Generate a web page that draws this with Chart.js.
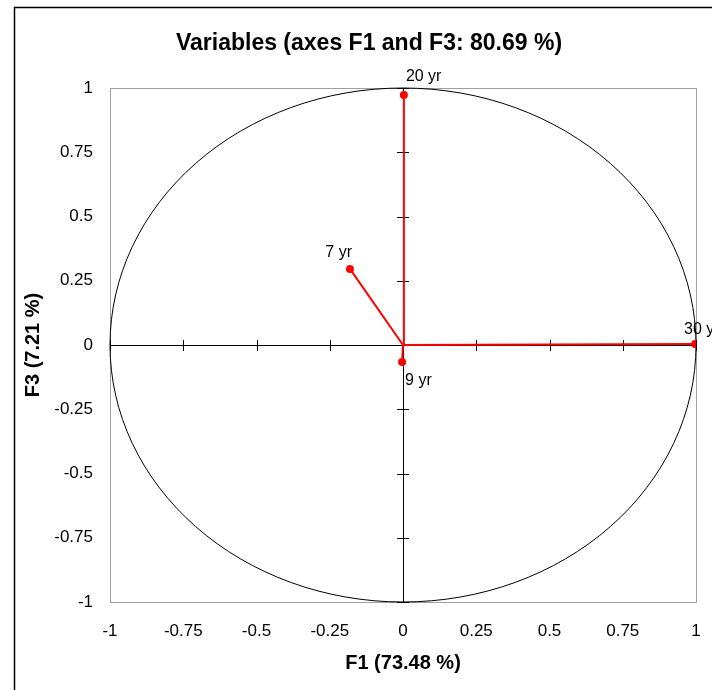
<!DOCTYPE html>
<html>
<head>
<meta charset="utf-8">
<script src="https://cdn.jsdelivr.net/npm/chart.js@4/dist/chart.umd.min.js"></script>
<style>
  html, body { margin: 0; padding: 0; background: #fff; }
  #wrap { width: 712px; height: 690px; position: relative; }
</style>
</head>
<body>
<div id="wrap"><canvas id="chart" width="712" height="690"></canvas></div>
<script>
// variables on the correlation circle
const names = ["20 yr", "7 yr", "9 yr", "30 yr"];
const f1 = [0.003, -0.181, -0.003, 0.997];
const f3 = [0.973, 0.296, -0.066, 0.004];
const ticks = [-1, -0.75, -0.5, -0.25, 0, 0.25, 0.5, 0.75, 1];
const chartTitle = "Variables (axes F1 and F3: 80.69 %)";

const RED = "#ff0000";
const FONT = "'Liberation Sans', Arial, sans-serif";

const datasets = names.map((n, i) => ({
  label: n,
  data: [{ x: 0, y: 0 }, { x: f1[i], y: f3[i] }],
  showLine: true,
  borderColor: RED,
  backgroundColor: RED,
  borderWidth: 2,
  pointRadius: [0, 4],
  pointHoverRadius: [0, 4],
  pointBorderWidth: 0,
}));

// label placement relative to each point: [dx, dy, align]
const labelPos = {
  "20 yr": [2, -18, "left"],
  "7 yr": [2, -16, "right"],
  "9 yr": [3, 19, "left"],
  "30 yr": [-11, -14, "left"],
};

const circlePlugin = {
  id: "circle",
  beforeDatasetsDraw(chart) {
    const { ctx, chartArea: a, scales } = chart;
    const xs = scales.x, ys = scales.y;
    const cx = xs.getPixelForValue(0), cy = ys.getPixelForValue(0);
    ctx.save();
    // page frame (cropped)
    ctx.strokeStyle = "#000";
    ctx.lineWidth = 1.5;
    ctx.beginPath();
    ctx.moveTo(14.5, 690);
    ctx.lineTo(14.5, 7.5);
    ctx.lineTo(712, 7.5);
    ctx.stroke();
    // title
    ctx.fillStyle = "#000";
    ctx.font = "bold 23px " + FONT;
    ctx.textAlign = "center";
    ctx.textBaseline = "middle";
    ctx.fillText(chartTitle, 369, 44);
    // plot border
    ctx.strokeStyle = "#a0a0a0";
    ctx.lineWidth = 1;
    ctx.strokeRect(a.left + 0.5, a.top + 0.5, a.right - a.left, a.bottom - a.top);
    // circle
    const rx = xs.getPixelForValue(1) - cx;
    const ry = cy - ys.getPixelForValue(1);
    ctx.strokeStyle = "#000";
    ctx.beginPath();
    ctx.ellipse(cx, cy, rx, ry, 0, 0, Math.PI * 2);
    ctx.stroke();
    // zero axes with tick marks
    ctx.beginPath();
    ctx.moveTo(a.left, Math.round(cy) + 0.5);
    ctx.lineTo(a.right, Math.round(cy) + 0.5);
    ctx.moveTo(Math.round(cx) + 0.5, a.top);
    ctx.lineTo(Math.round(cx) + 0.5, a.bottom);
    ticks.forEach((t) => {
      const px = Math.round(xs.getPixelForValue(t)) + 0.5;
      ctx.moveTo(px, cy - 5);
      ctx.lineTo(px, cy + 6);
      const py = Math.round(ys.getPixelForValue(t)) + 0.5;
      ctx.moveTo(cx - 6, py);
      ctx.lineTo(cx + 6, py);
    });
    ctx.stroke();
    ctx.restore();
  },
  afterDatasetsDraw(chart) {
    const { ctx, scales } = chart;
    ctx.save();
    ctx.fillStyle = "#000";
    ctx.font = "16px " + FONT;
    ctx.textBaseline = "middle";
    names.forEach((n, i) => {
      const px = scales.x.getPixelForValue(f1[i]);
      const py = scales.y.getPixelForValue(f3[i]);
      const [dx, dy, al] = labelPos[n];
      ctx.textAlign = al;
      ctx.fillText(n, px + dx, py + dy);
    });
    ctx.restore();
  },
};

new Chart(document.getElementById("chart"), {
  type: "scatter",
  data: { datasets },
  options: {
    responsive: false,
    animation: false,
    layout: { padding: { left: 0, right: 16, top: 88, bottom: 0 } },
    plugins: {
      legend: { display: false },
      tooltip: { enabled: false },
      title: { display: false },
    },
    scales: {
      x: {
        type: "linear",
        min: -1,
        max: 1,
        afterBuildTicks: (s) => { s.ticks = ticks.map((v) => ({ value: v })); },
        afterFit: (s) => { s.height = 88; s.paddingLeft = 0; s.paddingRight = 0; },
        grid: { display: false, drawTicks: false },
        border: { display: false },
        ticks: {
          color: "#000",
          font: { family: FONT, size: 17 },
          padding: 19,
          maxRotation: 0,
          callback: (v) => String(v),
        },
        title: {
          display: true,
          text: "F1 (73.48 %)",
          color: "#000",
          font: { family: FONT, size: 20, weight: "bold" },
          padding: { top: 0, bottom: 15 },
        },
      },
      y: {
        type: "linear",
        min: -1,
        max: 1,
        afterBuildTicks: (s) => { s.ticks = ticks.map((v) => ({ value: v })); },
        afterFit: (s) => { s.width = 110; s.paddingTop = 0; s.paddingBottom = 0; },
        grid: { display: false, drawTicks: false },
        border: { display: false },
        ticks: {
          color: "#000",
          font: { family: FONT, size: 17 },
          padding: 17,
          callback: (v) => String(v),
        },
        title: {
          display: true,
          text: "F3 (7.21 %)",
          color: "#000",
          font: { family: FONT, size: 20, weight: "bold" },
          padding: { top: 21, bottom: 0 },
        },
      },
    },
  },
  plugins: [circlePlugin],
});
</script>
</body>
</html>
